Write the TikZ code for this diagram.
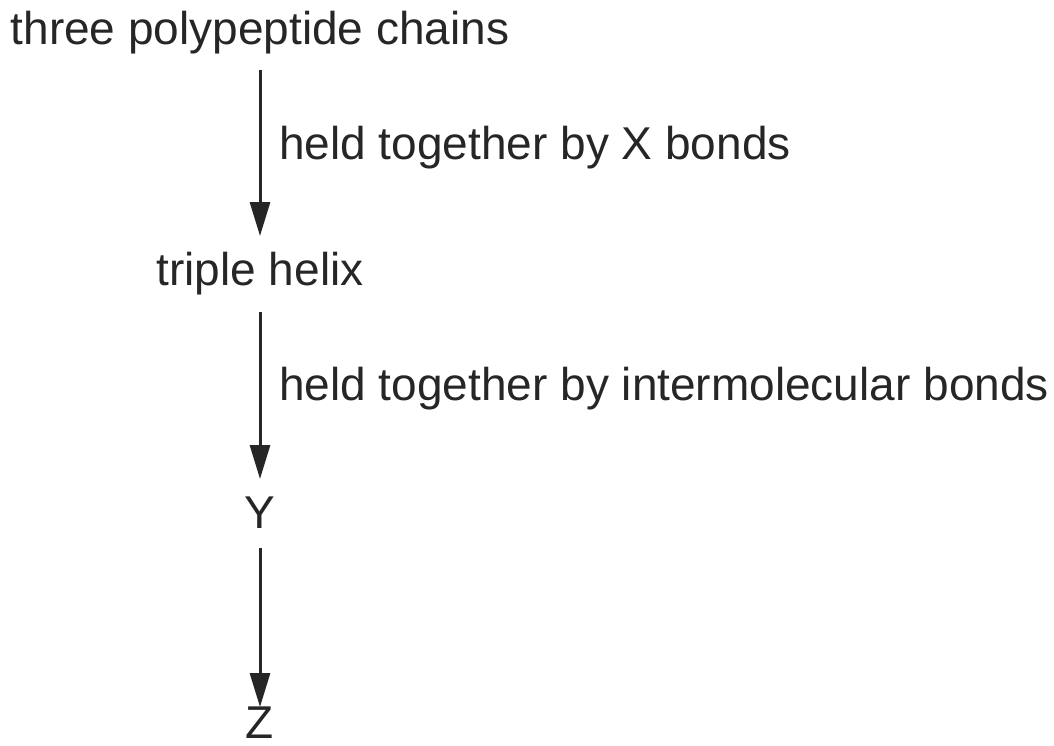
\documentclass[tikz,border=0pt]{standalone}
\usepackage{fontspec}
\setmainfont{Liberation Sans}
\usetikzlibrary{arrows.meta}
\begin{document}
\begin{tikzpicture}[x=1pt,y=-1pt,
  lbl/.style={font=\fontsize{46}{54}\selectfont, text=black!85, inner sep=0pt, anchor=base},
  arr/.style={line width=3pt, draw=black!85, -{Triangle[length=34pt,width=20pt]}}]
\useasboundingbox (0,0) rectangle (1054,746);
\node[lbl] (a) at (260,45) {three polypeptide chains};
\node[lbl] (b) at (260,285) {triple helix};
\node[lbl] (y) at (260,528) {Y};
\node[lbl] (z) at (260,738) {Z};
\coordinate (a1) at (260,70); \coordinate (a2) at (260,236);
\coordinate (b1) at (260,312); \coordinate (b2) at (260,479);
\coordinate (y1) at (260,548); \coordinate (y2) at (260,707);
\draw[arr] (a1) -- (a2);
\draw[arr] (b1) -- (b2);
\draw[arr] (y1) -- (y2);
\node[lbl, anchor=base west] (l1) at (279,160) {held together by X bonds};
\node[lbl, anchor=base west] (l2) at (279,400) {held together by intermolecular bonds};
\end{tikzpicture}
\end{document}
